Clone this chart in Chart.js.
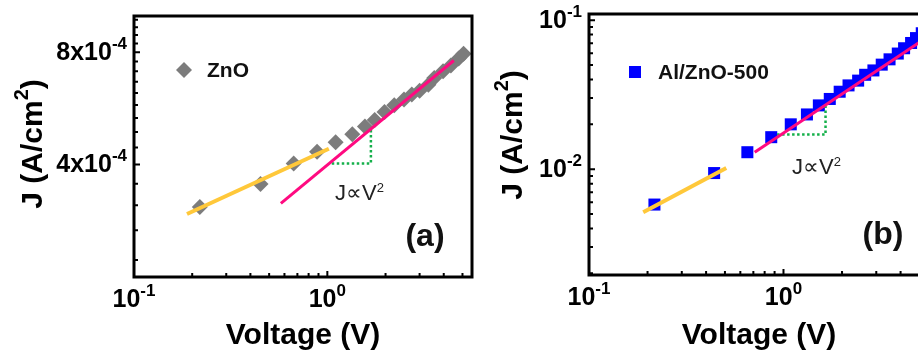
<!DOCTYPE html>
<html>
<head>
<meta charset="utf-8">
<script src="https://cdn.jsdelivr.net/npm/chart.js@4.4.0/dist/chart.umd.min.js"></script>
<style>
  html, body { margin: 0; padding: 0; background: #fff; overflow: hidden; }
  body { width: 918px; height: 352px; position: relative; }
  .panel { position: absolute; top: 0; }
  #wrapA { left: 0; }
  #wrapB { left: 460px; }
</style>
</head>
<body>
<div class="panel" id="wrapA"><canvas id="chartA" width="480" height="352"></canvas></div>
<div class="panel" id="wrapB"><canvas id="chartB" width="480" height="352"></canvas></div>
<script>
const FONT = '"Liberation Sans", Arial, Helvetica, sans-serif';

// ---- panel (a): ZnO ----
const znoV = [0.219, 0.451, 0.670, 0.885, 1.104, 1.346, 1.565, 1.758, 1.975, 2.218, 2.492, 2.735, 3.002, 3.332, 3.573, 3.967, 4.354, 4.778, 5.064];
const znoJ = [3.08e-4, 3.55e-4, 4.03e-4, 4.33e-4, 4.59e-4, 4.82e-4, 5.06e-4, 5.27e-4, 5.53e-4, 5.77e-4, 5.98e-4, 6.16e-4, 6.31e-4, 6.54e-4, 6.82e-4, 7.11e-4, 7.37e-4, 7.69e-4, 7.92e-4];
const ohmicA_V = [0.188, 1.018];
const ohmicA_J = [2.95e-4, 4.41e-4];
const sclcA_V = [0.575, 4.51];
const sclcA_J = [3.15e-4, 7.60e-4];
const slopeA_V = [1.054, 1.68, 1.68];
const slopeA_J = [4.03e-4, 4.03e-4, 4.97e-4];

// ---- panel (b): Al/ZnO-500 ----
const alznoV = [0.217, 0.440, 0.652, 0.865, 1.09, 1.32, 1.52, 1.73, 1.945, 2.16, 2.42, 2.63, 2.90, 3.20, 3.51, 3.87, 4.17, 4.53, 4.80, 5.14];
const alznoJ = [5.79e-3, 9.42e-3, 1.30e-2, 1.64e-2, 2.0e-2, 2.33e-2, 2.68e-2, 2.96e-2, 3.31e-2, 3.65e-2, 3.93e-2, 4.30e-2, 4.60e-2, 5.03e-2, 5.46e-2, 5.97e-2, 6.48e-2, 7.03e-2, 7.58e-2, 8.17e-2];
const ohmicB_V = [0.190, 0.508];
const ohmicB_J = [5.14e-3, 1.02e-2];
const sclcB_V = [0.711, 5.57];
const sclcB_J = [1.30e-2, 7.8e-2];
const slopeB_V = [0.927, 1.645, 1.645];
const slopeB_J = [1.71e-2, 1.71e-2, 2.66e-2];

// ---- ticks ----
const xMajor = [0.1, 1];
const xMajorLabels = [['10', '-1'], ['10', '0']];
const xMinor = [0.2, 0.3, 0.4, 0.5, 0.6, 0.7, 0.8, 0.9, 2, 3, 4, 5];
const yMajorA = [4e-4, 8e-4];
const yMajorLabelsA = [['4x10', '-4'], ['8x10', '-4']];
const yMinorA = [2.222e-4, 2.667e-4, 3.111e-4, 3.556e-4, 4.444e-4, 4.889e-4, 5.333e-4, 5.778e-4,
                 6.222e-4, 6.667e-4, 7.111e-4, 7.556e-4, 8.444e-4, 8.889e-4, 9.333e-4, 9.778e-4];
const yMajorB = [0.01, 0.1];
const yMajorLabelsB = [['10', '-2'], ['10', '-1']];
const yMinorB = [0.002, 0.003, 0.004, 0.005, 0.006, 0.007, 0.008, 0.009,
                 0.02, 0.03, 0.04, 0.05, 0.06, 0.07, 0.08, 0.09];

const pts = (xs, ys) => xs.map((x, i) => ({ x: x, y: ys[i] }));

// text made of pieces, some raised as superscripts
function drawParts(ctx, parts, x, y, align, o) {
  let total = 0;
  const widths = parts.map(p => {
    ctx.font = `${o.weight} ${p[1] ? o.sup : o.size}px ${FONT}`;
    const w = ctx.measureText(p[0]).width;
    total += w;
    return w;
  });
  let cx = align === 'center' ? x - total / 2 : align === 'right' ? x - total : x;
  ctx.textAlign = 'left';
  ctx.textBaseline = 'middle';
  parts.forEach((p, i) => {
    ctx.font = `${o.weight} ${p[1] ? o.sup : o.size}px ${FONT}`;
    ctx.fillText(p[0], cx, p[1] ? y - o.size * o.raise : y);
    cx += widths[i];
  });
}

function framePlugin(cfg) {
  return {
    id: 'frame' + cfg.name,
    afterDatasetsDraw(chart) {
      const ctx = chart.ctx;
      const a = chart.chartArea;
      const xs = chart.scales.x, ys = chart.scales.y;
      ctx.save();
      ctx.fillStyle = '#000';
      ctx.strokeStyle = '#000';

      // inward ticks
      ctx.lineWidth = 2;
      ctx.beginPath();
      xMinor.forEach(v => { const p = xs.getPixelForValue(v); ctx.moveTo(p, a.bottom); ctx.lineTo(p, a.bottom - 4); });
      xMajor.forEach(v => { const p = xs.getPixelForValue(v); ctx.moveTo(p, a.bottom); ctx.lineTo(p, a.bottom - 6); });
      cfg.yMinor.forEach(v => { const p = ys.getPixelForValue(v); ctx.moveTo(a.left, p); ctx.lineTo(a.left + 4, p); });
      cfg.yMajor.forEach(v => { const p = ys.getPixelForValue(v); ctx.moveTo(a.left, p); ctx.lineTo(a.left + 6, p); });
      ctx.stroke();

      // frame
      ctx.lineWidth = 3;
      ctx.strokeRect(a.left, a.top, a.right - a.left, a.bottom - a.top);

      const tick = { weight: 'bold', size: 25, sup: 17, raise: 0.36 };
      xMajor.forEach((v, i) => {
        drawParts(ctx, [[xMajorLabels[i][0]], [xMajorLabels[i][1], true]], xs.getPixelForValue(v), a.bottom + 23, 'center', tick);
      });
      cfg.yMajor.forEach((v, i) => {
        drawParts(ctx, [[cfg.yLabels[i][0]], [cfg.yLabels[i][1], true]], a.left - 7, ys.getPixelForValue(v) + 1, 'right', tick);
      });

      // axis titles
      const title = { weight: 'bold', size: 30, sup: 20, raise: 0.4 };
      drawParts(ctx, [['Voltage (V)']], (a.left + a.right) / 2, 336, 'center', title);
      ctx.save();
      ctx.translate(cfg.yTitleX, cfg.yTitleY);
      ctx.rotate(-Math.PI / 2);
      drawParts(ctx, [['J (A/cm'], ['2', true], [')']], 0, 0, 'center', title);
      ctx.restore();

      // legend
      const [lx, ly] = cfg.legendAt;
      ctx.fillStyle = cfg.color;
      ctx.beginPath();
      if (cfg.marker === 'diamond') {
        ctx.moveTo(lx - 8, ly); ctx.lineTo(lx, ly - 8); ctx.lineTo(lx + 8, ly); ctx.lineTo(lx, ly + 8);
      } else {
        ctx.rect(lx - 6, ly - 6, 12, 12);
      }
      ctx.fill();
      ctx.fillStyle = '#111';
      drawParts(ctx, [[cfg.legend]], lx + 23, ly + 1, 'left', { weight: 'bold', size: 21 });

      // annotations
      ctx.fillStyle = '#222';
      drawParts(ctx, [['J\u221DV'], ['2', true]], cfg.lawAt[0], cfg.lawAt[1], 'left',
        { weight: 'normal', size: 22, sup: 13, raise: 0.27 });
      ctx.fillStyle = '#111';
      drawParts(ctx, [[cfg.tag]], cfg.tagAt[0], cfg.tagAt[1], 'center', { weight: 'bold', size: 32 });
      ctx.restore();
    }
  };
}

function makeChart(id, cfg) {
  return new Chart(document.getElementById(id), {
    type: 'scatter',
    data: {
      datasets: [
        { data: pts(cfg.ohmic[0], cfg.ohmic[1]), showLine: true, borderColor: '#ffc83a', borderWidth: 4, pointRadius: 0, order: 1 },
        { data: pts(cfg.sclc[0], cfg.sclc[1]), showLine: true, borderColor: '#ff0a80', borderWidth: 3, pointRadius: 0, order: 1 },
        { data: pts(cfg.slope[0], cfg.slope[1]), showLine: true, borderColor: '#14b04a', borderWidth: 2.5, borderDash: [2.5, 2.5], pointRadius: 0, order: 1 },
        { data: pts(cfg.v, cfg.j), showLine: false, pointStyle: cfg.marker === 'diamond' ? 'rectRot' : 'rect',
          pointRadius: cfg.marker === 'diamond' ? 8 : 8.5, pointBackgroundColor: cfg.color, pointBorderWidth: 0, order: 3 }
      ]
    },
    options: {
      responsive: false,
      animation: false,
      events: [],
      layout: { padding: cfg.padding },
      plugins: { legend: { display: false }, tooltip: { enabled: false } },
      scales: {
        x: { type: 'logarithmic', min: 0.1, max: 5.6, ticks: { display: false }, grid: { display: false }, border: { display: false } },
        y: { type: 'logarithmic', min: cfg.yRange[0], max: cfg.yRange[1], ticks: { display: false }, grid: { display: false }, border: { display: false } }
      }
    },
    plugins: [framePlugin(cfg)]
  });
}

makeChart('chartA', {
  name: 'A', v: znoV, j: znoJ,
  ohmic: [ohmicA_V, ohmicA_J], sclc: [sclcA_V, sclcA_J], slope: [slopeA_V, slopeA_J],
  marker: 'diamond', color: '#7c7c7c', legend: 'ZnO', legendAt: [184, 70],
  yRange: [2e-4, 1e-3], yMajor: yMajorA, yMinor: yMinorA, yLabels: yMajorLabelsA,
  padding: { left: 126, top: 16, right: 8, bottom: 67 },
  yTitleX: 34, yTitleY: 144, lawAt: [335, 194], tag: '(a)', tagAt: [425, 237]
});

makeChart('chartB', {
  name: 'B', v: alznoV, j: alznoJ,
  ohmic: [ohmicB_V, ohmicB_J], sclc: [sclcB_V, sclcB_J], slope: [slopeB_V, slopeB_J],
  marker: 'square', color: '#0000ff', legend: 'Al/ZnO-500', legendAt: [175, 72],
  yRange: [1.95e-3, 0.11], yMajor: yMajorB, yMinor: yMinorB, yLabels: yMajorLabelsB,
  padding: { left: 121, top: 14, right: 11, bottom: 69 },
  yTitleX: 54, yTitleY: 135, lawAt: [332, 168], tag: '(b)', tagAt: [423, 235]
});
</script>
</body>
</html>
